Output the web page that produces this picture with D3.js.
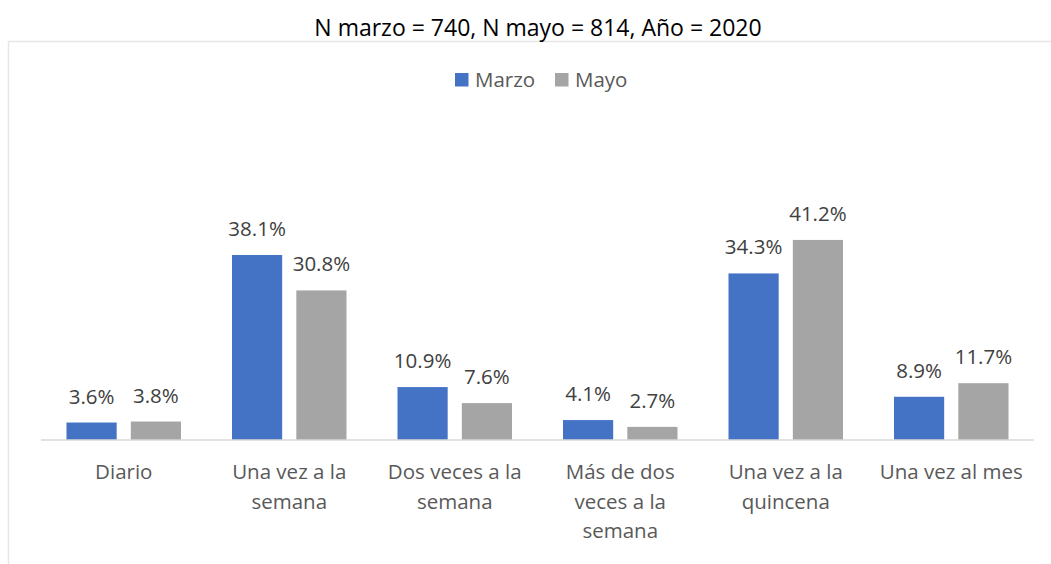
<!DOCTYPE html>
<html>
<head>
<meta charset="utf-8">
<script src="https://cdn.jsdelivr.net/npm/d3@7"></script>
<style>
  body { margin: 0; background: #fff; }
  text { font-family: "Open Sans", sans-serif; }
</style>
</head>
<body>
<div id="wrapper"></div>
<script>
// data
const categories = ["Diario", "Una vez a la semana", "Dos veces a la semana",
  "Más de dos veces a la semana", "Una vez a la quincena", "Una vez al mes"]
const tickLabels = [["Diario"], ["Una vez a la", "semana"], ["Dos veces a la", "semana"],
  ["Más de dos", "veces a la", "semana"], ["Una vez a la", "quincena"], ["Una vez al mes"]]
const seriesNames = ["Marzo", "Mayo"]
const marzoValues = [3.6, 38.1, 10.9, 4.1, 34.3, 8.9]
const mayoValues = [3.8, 30.8, 7.6, 2.7, 41.2, 11.7]
const seriesColors = ["#4472C4", "#A5A5A5"]
const title = "N marzo = 740, N mayo = 814, Año = 2020"

function drawChart() {
  const width = 1051
  const height = 564
  const baseline = 440
  const labelSize = "20.5px"

  const rows = categories.map((c, i) => ({
    category: c,
    values: [marzoValues[i], mayoValues[i]],
  }))

  const svg = d3.select("#wrapper")
    .append("svg")
    .attr("width", width)
    .attr("height", height)

  // chart area border (runs off the right and bottom edges)
  svg.append("rect")
    .attr("x", 8.5)
    .attr("y", 41.5)
    .attr("width", 1100)
    .attr("height", 600)
    .attr("fill", "none")
    .attr("stroke", "#e6e6e6")
    .attr("stroke-width", 1.5)

  svg.append("text")
    .attr("x", 538)
    .attr("y", 36)
    .attr("text-anchor", "middle")
    .attr("fill", "#000")
    .style("font-size", "23px")
    .text(title)

  const x0 = d3.scaleBand()
    .domain(categories)
    .range([41, 1034])

  const x1 = d3.scaleBand()
    .domain(seriesNames)
    .range([25.5, x0.bandwidth() - 25.5])
    .paddingInner(0.22)

  const y = d3.scaleLinear()
    .domain([0, 50])
    .range([baseline, baseline - 50 * 4.856])

  const color = d3.scaleOrdinal()
    .domain(seriesNames)
    .range(seriesColors)

  const groups = svg.selectAll(".group")
    .data(rows)
    .enter().append("g")
    .attr("class", "group")
    .attr("transform", d => `translate(${x0(d.category)},0)`)

  const bars = groups.selectAll("g")
    .data(d => d.values.map((v, i) => ({ series: seriesNames[i], value: v })))
    .enter().append("g")

  bars.append("rect")
    .attr("x", d => x1(d.series))
    .attr("y", d => y(d.value))
    .attr("width", x1.bandwidth())
    .attr("height", d => baseline - y(d.value))
    .attr("fill", d => color(d.series))

  bars.append("text")
    .attr("x", d => x1(d.series) + x1.bandwidth() / 2)
    .attr("y", d => y(d.value) - 19)
    .attr("text-anchor", "middle")
    .attr("fill", "#404040")
    .style("font-size", labelSize)
    .text(d => `${d3.format(".1f")(d.value)}%`)

  // x axis line
  svg.append("line")
    .attr("x1", x0.range()[0])
    .attr("x2", x0.range()[1])
    .attr("y1", baseline)
    .attr("y2", baseline)
    .attr("stroke", "#d9d9d9")
    .attr("stroke-width", 1.5)

  const tickText = svg.selectAll(".tick-label")
    .data(categories)
    .enter().append("text")
    .attr("class", "tick-label")
    .attr("x", d => x0(d) + x0.bandwidth() / 2)
    .attr("y", 479)
    .attr("text-anchor", "middle")
    .attr("fill", "#595959")
    .style("font-size", labelSize)

  tickText.selectAll("tspan")
    .data((d, i) => tickLabels[i])
    .enter().append("tspan")
    .attr("x", function() { return this.parentNode.getAttribute("x") })
    .attr("dy", (d, i) => i === 0 ? 0 : 29.5)
    .text(d => d)

  // legend
  const legendItems = [
    { name: seriesNames[0], x: 455 },
    { name: seriesNames[1], x: 555 },
  ]
  const legend = svg.selectAll(".legend")
    .data(legendItems)
    .enter().append("g")
    .attr("class", "legend")
    .attr("transform", d => `translate(${d.x},73)`)

  legend.append("rect")
    .attr("width", 13.5)
    .attr("height", 13.5)
    .attr("fill", d => color(d.name))

  legend.append("text")
    .attr("x", 20)
    .attr("y", 14)
    .attr("fill", "#595959")
    .style("font-size", labelSize)
    .text(d => d.name)
}
drawChart()
</script>
</body>
</html>
